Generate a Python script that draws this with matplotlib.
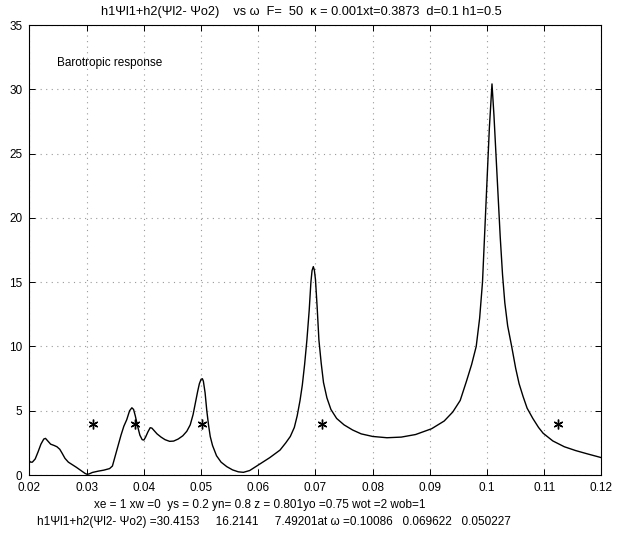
import numpy as np
import matplotlib
matplotlib.use("Agg")
import matplotlib.pyplot as plt

plt.rcParams['font.family'] = ['Liberation Sans', 'DejaVu Sans']

# response curve
omega = [0.0200, 0.0202, 0.0205, 0.0210, 0.0215, 0.0220, 0.0225, 0.0228, 0.0232,
         0.0237, 0.0243, 0.0248, 0.0253, 0.0257, 0.0262, 0.0268, 0.0275, 0.0282,
         0.0290, 0.0297, 0.0301, 0.0305, 0.0310, 0.0320, 0.0330, 0.0340, 0.0345,
         0.0350, 0.0355, 0.0360, 0.0365, 0.0370, 0.0375, 0.0379, 0.0382, 0.0385,
         0.0389, 0.0393, 0.0397, 0.0400, 0.0403, 0.0407, 0.0411, 0.0414, 0.0418,
         0.0423, 0.0430, 0.0437, 0.0445, 0.0452, 0.0460, 0.0468, 0.0475, 0.0481,
         0.0486, 0.0490, 0.0494, 0.0497, 0.0500, 0.050227, 0.0504, 0.0507, 0.0510,
         0.0513, 0.0516, 0.0520, 0.0527, 0.0535, 0.0545, 0.0555, 0.0565, 0.0574,
         0.0585, 0.0600, 0.0620, 0.0638, 0.0648, 0.0656, 0.0663, 0.0668, 0.0673,
         0.0677, 0.0681, 0.0685, 0.0689, 0.0692, 0.0694, 0.069622, 0.0698, 0.0700,
         0.0703, 0.0706, 0.0710, 0.0714, 0.0720, 0.0727, 0.0737, 0.0750, 0.0765,
         0.0780, 0.0800, 0.0825, 0.0850, 0.0875, 0.0903, 0.0925, 0.0940, 0.0953,
         0.0964, 0.0973, 0.0981, 0.0987, 0.0992, 0.0996, 0.1000, 0.1004, 0.10086,
         0.1012, 0.1016, 0.1020, 0.1023, 0.1027, 0.1031, 0.1036, 0.1043, 0.1050,
         0.1056, 0.1063, 0.1070, 0.1080, 0.1090, 0.1098, 0.1115, 0.1135, 0.1155,
         0.1175, 0.1200]
resp = [1.09, 1.0, 1.0, 1.25, 1.8, 2.4, 2.8, 2.85, 2.65,
        2.4, 2.3, 2.2, 2.0, 1.7, 1.3, 1.0, 0.8, 0.6,
        0.35, 0.13, 0.05, 0.1, 0.2, 0.3, 0.38, 0.5, 0.7,
        1.5, 2.3, 3.1, 3.8, 4.3, 5.0, 5.23, 5.1, 4.6,
        3.8, 3.1, 2.75, 2.72, 2.95, 3.35, 3.68, 3.65, 3.45,
        3.2, 2.95, 2.75, 2.62, 2.64, 2.8, 3.05, 3.4, 3.9,
        4.7, 5.6, 6.5, 7.1, 7.45, 7.49, 7.3, 6.4, 5.0,
        3.9, 3.0, 2.3, 1.5, 1.0, 0.65, 0.4, 0.25, 0.21,
        0.35, 0.78, 1.35, 1.94, 2.5, 3.0, 3.7, 4.6, 5.8,
        7.0, 8.6, 10.5, 12.8, 15.0, 15.9, 16.21, 15.95, 15.2,
        13.0, 10.5, 8.7, 7.2, 6.0, 5.1, 4.4, 3.9, 3.5,
        3.2, 3.0, 2.9, 2.95, 3.15, 3.6, 4.2, 4.9, 5.8,
        7.3, 8.6, 10.0, 12.2, 15.0, 19.0, 22.9, 27.0, 30.42,
        28.0, 24.5, 21.0, 18.5, 15.6, 13.4, 11.6, 10.0, 8.3,
        7.1, 6.1, 5.2, 4.4, 3.7, 3.25, 2.65, 2.2, 1.9,
        1.65, 1.35]

# star markers
star_x = [0.03115, 0.03844, 0.05021, 0.07108, 0.11245]
star_y = [4.0, 4.0, 4.0, 4.0, 4.0]

xticks = [0.02, 0.03, 0.04, 0.05, 0.06, 0.07, 0.08, 0.09, 0.1, 0.11, 0.12]
yticks = [0, 5, 10, 15, 20, 25, 30, 35]

fig = plt.figure(figsize=(6.22, 5.35), dpi=100)
ax = fig.add_axes([0.0474, 0.1121, 0.9196, 0.8411])

ax.plot(omega, resp, color='black', lw=1.0)
ax.plot(star_x, star_y, linestyle='none', marker=(6, 2, 0), color='black',
        ms=7, mew=1.0)

ax.set_xlim(0.02, 0.12)
ax.set_ylim(0, 35)
ax.set_xticks(xticks)
ax.set_xticklabels(['%g' % t for t in xticks])
ax.set_yticks(yticks)
ax.set_yticklabels(['%g' % t for t in yticks])
ax.tick_params(direction='in', top=True, right=True, length=4, width=0.7,
               labelsize=8.5, pad=5)
ax.grid(True, color='#999999', linestyle=(0, (1, 4)), linewidth=0.8)
for s in ax.spines.values():
    s.set_linewidth(0.8)

ax.text(0.0486, 0.916, 'Barotropic response', transform=ax.transAxes,
        fontsize=8.5, va='center', ha='left')

fig.text(0.484, 0.977,
         'h1\u03a8l1+h2(\u03a8l2- \u03a8o2)    vs \u03c9  F=  50  \u03ba = 0.001xt=0.3873  d=0.1 h1=0.5',
         fontsize=9.2, ha='center', va='center')
fig.text(0.418, 0.056,
         'xe = 1 xw =0  ys = 0.2 yn= 0.8 z = 0.801yo =0.75 wot =2 wob=1',
         fontsize=8.5, ha='center', va='center')
fig.text(0.059, 0.024,
         'h1\u03a8l1+h2(\u03a8l2- \u03a8o2) =30.4153     16.2141     7.49201at \u03c9 =0.10086   0.069622   0.050227',
         fontsize=8.5, ha='left', va='center')

fig.savefig('out.png', dpi=100)
